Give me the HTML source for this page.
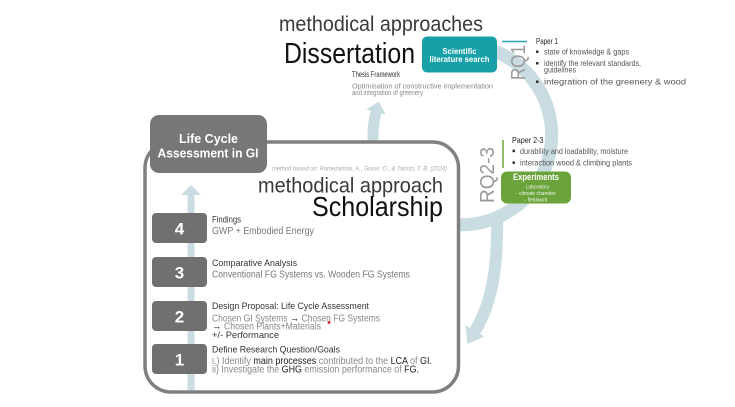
<!DOCTYPE html>
<html><head><meta charset="utf-8"><style>
html,body{margin:0;padding:0;background:#fff;}
svg{display:block;}
text{font-family:"Liberation Sans",sans-serif;}
</style></head><body>
<svg width="735" height="407" viewBox="0 0 735 407" xmlns="http://www.w3.org/2000/svg">
<rect width="735" height="407" fill="#fff"/>
<!-- ring -->
<path d="M481.7 47 A90 90 0 0 1 447.4 223.6" fill="none" stroke="#c8dce1" stroke-width="13"/>
<!-- left up arrow -->
<path d="M376.1 158.3 A90 90 0 0 1 376 112" fill="none" stroke="#c8dce1" stroke-width="11"/>
<polygon points="378.8,101.4 366.3,109.4 385.7,114.6" fill="#c8dce1"/>
<!-- down arrow -->
<path d="M497 213 C498 260 494 300 475 331" fill="none" stroke="#c8dce1" stroke-width="12"/>
<polygon points="467.3,344 484.5,336.6 465.5,325.4" fill="#c8dce1"/>

<!-- scholarship box -->
<rect x="145" y="142" width="313.5" height="250" rx="26" fill="#fff" stroke="#808080" stroke-width="3.5"/>
<!-- vertical arrow -->
<rect x="187.5" y="194" width="7" height="196" fill="#c8dce1"/>
<polygon points="181,195 201,195 191,185" fill="#c8dce1"/>

<!-- LCA box -->
<rect x="150" y="115" width="117" height="58" rx="9" fill="#777"/>
<text x="208.5" y="143" font-size="13" font-weight="bold" fill="#fff" text-anchor="middle" textLength="59" lengthAdjust="spacingAndGlyphs">Life Cycle</text>
<text x="208" y="157.5" font-size="13" font-weight="bold" fill="#fff" text-anchor="middle" textLength="101" lengthAdjust="spacingAndGlyphs">Assessment in GI</text>

<!-- scholarship title -->
<text x="272" y="170.5" font-size="6" font-style="italic" fill="#aaa" textLength="175" lengthAdjust="spacingAndGlyphs">method based on: Ramezannia, A., Gocer, O., &amp; Tabrizi, T. B. (2024)</text>
<text x="258" y="192.5" font-size="21" fill="#3a3a3a" textLength="185" lengthAdjust="spacingAndGlyphs">methodical approach</text>
<text x="312" y="216" font-size="28" fill="#111" textLength="131" lengthAdjust="spacingAndGlyphs">Scholarship</text>

<!-- number boxes -->
<rect x="152" y="213" width="55" height="30" rx="4" fill="#707070"/>
<rect x="152" y="257" width="55" height="30" rx="4" fill="#707070"/>
<rect x="152" y="301" width="55" height="30" rx="4" fill="#707070"/>
<rect x="152" y="344" width="55" height="30" rx="4" fill="#707070"/>
<text x="179.5" y="234.5" font-size="17" font-weight="bold" fill="#fff" text-anchor="middle">4</text>
<text x="179.5" y="278.5" font-size="17" font-weight="bold" fill="#fff" text-anchor="middle">3</text>
<text x="179.5" y="322.5" font-size="17" font-weight="bold" fill="#fff" text-anchor="middle">2</text>
<text x="179.5" y="365.5" font-size="17" font-weight="bold" fill="#fff" text-anchor="middle">1</text>

<!-- step labels -->
<text x="212" y="222.5" font-size="9.5" fill="#333" textLength="29" lengthAdjust="spacingAndGlyphs">Findings</text>
<text x="212" y="234" font-size="10" fill="#777" textLength="102" lengthAdjust="spacingAndGlyphs">GWP + Embodied Energy</text>

<text x="212" y="266" font-size="9.5" fill="#333" textLength="85" lengthAdjust="spacingAndGlyphs">Comparative Analysis</text>
<text x="212" y="277.5" font-size="10" fill="#777" textLength="198" lengthAdjust="spacingAndGlyphs">Conventional FG Systems vs. Wooden FG Systems</text>

<text x="212" y="309" font-size="9.5" fill="#333" textLength="157" lengthAdjust="spacingAndGlyphs">Design Proposal: Life Cycle Assessment</text>
<text x="212" y="321.5" font-size="10" fill="#888" textLength="168" lengthAdjust="spacingAndGlyphs">Chosen GI Systems <tspan fill="#222" font-weight="bold" font-size="11">→</tspan> Chosen FG Systems</text>
<text x="212" y="329.5" font-size="10" fill="#888" textLength="109" lengthAdjust="spacingAndGlyphs"><tspan fill="#222" font-weight="bold" font-size="11">→</tspan> Chosen Plants+Materials</text>
<text x="212" y="338" font-size="9.5" fill="#333" textLength="67" lengthAdjust="spacingAndGlyphs">+/- Performance</text>
<circle cx="329" cy="322.5" r="1.4" fill="#e02020"/>

<text x="212" y="352.5" font-size="9.5" fill="#333" textLength="128" lengthAdjust="spacingAndGlyphs">Define Research Question/Goals</text>
<text x="212" y="364" font-size="10" fill="#888" textLength="220" lengthAdjust="spacingAndGlyphs">i.) Identify <tspan fill="#222">main processes</tspan> contributed to the <tspan fill="#222">LCA</tspan> of <tspan fill="#222">GI.</tspan></text>
<text x="212" y="372.5" font-size="10" fill="#888" textLength="207" lengthAdjust="spacingAndGlyphs">ii) Investigate the <tspan fill="#222">GHG</tspan> emission performance of <tspan fill="#222">FG.</tspan></text>

<!-- Dissertation header -->
<text x="279" y="31" font-size="21" fill="#3a3a3a" textLength="204" lengthAdjust="spacingAndGlyphs">methodical approaches</text>
<text x="284" y="63" font-size="29" fill="#111" textLength="131" lengthAdjust="spacingAndGlyphs">Dissertation</text>

<!-- Scientific box -->
<rect x="422" y="36.5" width="75" height="36" rx="5" fill="#17a0a8"/>
<text x="459.5" y="54" font-size="8.5" font-weight="bold" fill="#fff" text-anchor="middle" textLength="34" lengthAdjust="spacingAndGlyphs">Scientific</text>
<text x="459.5" y="62" font-size="8.5" font-weight="bold" fill="#fff" text-anchor="middle" textLength="60" lengthAdjust="spacingAndGlyphs">literature search</text>

<!-- Thesis framework -->
<text x="352" y="77" font-size="8" fill="#333" textLength="48" lengthAdjust="spacingAndGlyphs">Thesis Framework</text>
<text x="352" y="88.5" font-size="7.5" fill="#888" textLength="141" lengthAdjust="spacingAndGlyphs">Optimisation of constructive implementation</text>
<text x="352" y="95" font-size="7.5" fill="#888" textLength="71" lengthAdjust="spacingAndGlyphs">and integration of greenery</text>

<!-- RQ1 / Paper 1 -->
<line x1="502" y1="41.5" x2="527" y2="41.5" stroke="#2aa5ad" stroke-width="1.6"/>
<text transform="translate(525,80) rotate(-90)" font-size="20" fill="#9a9a9a" textLength="35" lengthAdjust="spacingAndGlyphs">RQ1</text>
<text x="536" y="44" font-size="8" fill="#222" textLength="22" lengthAdjust="spacingAndGlyphs">Paper 1</text>
<rect x="536" y="50.5" width="2.5" height="2.5" fill="#333"/>
<rect x="536" y="62" width="2.5" height="2.5" fill="#333"/>
<rect x="536" y="80.5" width="2.5" height="2.5" fill="#333"/>
<text x="544" y="54.5" font-size="8" fill="#555" textLength="85" lengthAdjust="spacingAndGlyphs">state of knowledge &amp; gaps</text>
<text x="544" y="66" font-size="8" fill="#555" textLength="97" lengthAdjust="spacingAndGlyphs">identify the relevant standards,</text>
<text x="544" y="72.5" font-size="8" fill="#555" textLength="32" lengthAdjust="spacingAndGlyphs">guidelines</text>
<text x="544" y="84.5" font-size="8" fill="#555" textLength="142" lengthAdjust="spacingAndGlyphs">integration of the greenery &amp; wood</text>

<!-- RQ2-3 / Paper 2-3 -->
<text transform="translate(494,203) rotate(-90)" font-size="20" fill="#9a9a9a" textLength="56" lengthAdjust="spacingAndGlyphs">RQ2-3</text>
<line x1="503" y1="140" x2="503" y2="168" stroke="#77ab44" stroke-width="1.6"/>
<text x="512" y="143" font-size="8" fill="#222" textLength="31.5" lengthAdjust="spacingAndGlyphs">Paper 2-3</text>
<rect x="512.5" y="149.7" width="2.5" height="2.5" fill="#333"/>
<rect x="512.5" y="161.4" width="2.5" height="2.5" fill="#333"/>
<text x="520" y="154" font-size="8" fill="#555" textLength="108" lengthAdjust="spacingAndGlyphs">durability and loadability, moisture</text>
<text x="520" y="165.5" font-size="8" fill="#555" textLength="112" lengthAdjust="spacingAndGlyphs">interaction wood &amp; climbing plants</text>

<!-- Experiments box -->
<rect x="501" y="171.5" width="70" height="32" rx="6" fill="#6ba33b"/>
<text x="536" y="180" font-size="9" font-weight="bold" fill="#fff" text-anchor="middle" textLength="46" lengthAdjust="spacingAndGlyphs">Experiments</text>
<text x="536" y="188.5" font-size="5" fill="#eef5e8" text-anchor="middle">- Laboratory</text>
<text x="536" y="195" font-size="5" fill="#eef5e8" text-anchor="middle">- climate chamber</text>
<text x="536" y="201.5" font-size="5" fill="#eef5e8" text-anchor="middle">- fieldwork</text>
</svg>
</body></html>
